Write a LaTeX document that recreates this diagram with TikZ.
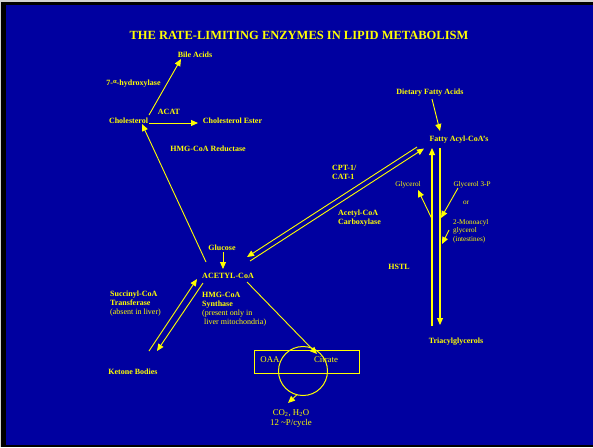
\documentclass[tikz,border=0pt]{standalone}
\usepackage{fontspec}
\setmainfont{Liberation Serif}
\usetikzlibrary{arrows.meta,calc}
\definecolor{slideblue}{RGB}{0,0,160}
\definecolor{slideyellow}{RGB}{255,255,0}
\begin{document}
\begin{tikzpicture}[x=1pt,y=-1pt,
  lbl/.style={text=slideyellow,font=\fontsize{8}{9}\selectfont\bfseries,inner sep=0pt},
  note/.style={text=slideyellow,font=\fontsize{7.2}{8.6}\selectfont,inner sep=0pt},
  cyc/.style={text=slideyellow,font=\fontsize{8.8}{10}\selectfont,inner sep=0pt},
  flow/.style={draw=slideyellow,line width=0.9pt,-{Triangle[length=7pt,width=6pt]}},
  rail/.style={draw=slideyellow,line width=1.1pt},
  outline/.style={draw=slideyellow,line width=1pt,inner sep=0pt}]

% slide frame
\fill[gray!35] (0,0) rectangle (593,447);
\fill[black] (1,2) rectangle (593,447);
\fill[slideblue] (6,5) rectangle (593,445);
\useasboundingbox (0,0) rectangle (593,447);

% title
\node[lbl,font=\fontsize{12.5}{14}\selectfont\bfseries] (title) at (299,35)
  {THE RATE-LIMITING ENZYMES IN LIPID METABOLISM};

% cholesterol branch
\node[lbl] (bile) at (195,55) {Bile Acids};
\node[lbl] (hydrox) at (133.5,84) {7-\raisebox{2.5pt}{\fontsize{6.5}{6.5}\selectfont α}-hydroxylase};
\node[lbl] (chol) at (128.5,121) {Cholesterol};
\node[lbl] (acat) at (169,112) {ACAT};
\node[lbl] (ester) at (232.5,121) {Cholesterol Ester};
\node[lbl] (hmgr) at (208,149) {HMG-CoA Reductase};

% acetyl-CoA hub
\node[lbl] (glucose) at (222,248) {Glucose};
\node[lbl] (acoa) at (228,276) {ACETYL-CoA};
\node[lbl,align=left,anchor=west] (cpt) at (332,172) {CPT-1/\\CAT-1};
\node[lbl,align=left,anchor=west] (acc) at (338,218) {Acetyl-CoA\\Carboxylase};

% fatty acid side
\node[lbl] (diet) at (430,93) {Dietary Fatty Acids};
\node[lbl] (facoa) at (459,140) {Fatty Acyl-CoA's};
\node[note] (glyc) at (408,185) {Glycerol};
\node[note] (g3p) at (472,185) {Glycerol 3-P};
\node[note] (or) at (466,203) {or};
\node[note,align=left,anchor=west] (mag) at (453,231) {2-Monoacyl\\glycerol\\(intestines)};
\node[lbl] (hstl) at (399,267) {HSTL};
\node[lbl] (tag) at (456,342) {Triacylglycerols};

% ketone bodies
\node[lbl,align=left,anchor=west] (sct) at (110,304)
  {Succinyl-CoA\\Transferase\\{\normalfont(absent in liver)}};
\node[lbl,align=left,anchor=west] (hmgs) at (202,309.5)
  {HMG-CoA\\Synthase\\{\normalfont(present only in}\\{\normalfont\ liver mitochondria)}};
\node[lbl] (ketone) at (133,372) {Ketone Bodies};

% citric acid cycle
\node[outline,minimum width=105pt,minimum height=23pt] (box) at (306.5,361.5) {};
\node[outline,circle,minimum size=49pt] (tca) at (303,371) {};
\node[cyc] (oaa) at (270,360) {OAA};
\node[cyc] (citrate) at (326,360) {Citrate};
\node[cyc,align=center] (co2) at (291,419) {CO\textsubscript{2}, H\textsubscript{2}O\\12 \textasciitilde P/cycle};

% connectors
\draw[flow] ($(chol)+(20.5,2)$) -- ($(ester)+(-34.5,2)$);
\draw[flow] ($(chol)+(20.5,-6)$) -- ($(bile)+(-14,4)$);
\draw[flow] ($(acoa)+(-22,-14)$) -- ($(chol)+(13.5,3)$);
\draw[flow] ($(glucose)+(1,4)$) -- ($(acoa)+(-5,-7)$);
\draw[flow] ($(facoa)+(-42,7)$) -- ($(acoa)+(19,-19)$);
\draw[flow] ($(acoa)+(22,-15)$) -- ($(facoa)+(-35,8.5)$);
\draw[flow] ($(diet)+(2,6)$) -- ($(facoa)+(-19,-9)$);
\draw[rail,-{Triangle[length=7pt,width=6pt]}] ($(tag)+(-24,-16)$) -- ($(facoa)+(-27,8)$);
\draw[rail,-{Triangle[length=7pt,width=6pt]}] ($(facoa)+(-19,8)$) -- ($(tag)+(-16,-17)$);
\draw[flow] ($(facoa)+(-27,79)$) -- ($(glyc)+(10,5)$);
\draw[flow] ($(g3p)+(-14,3)$) -- ($(facoa)+(-18,78)$);
\draw[flow] ($(mag.west)+(-4,-1)$) -- ($(facoa)+(-17,104)$);
\draw[flow] ($(ketone)+(16,-21)$) -- ($(acoa)+(-31,3)$);
\draw[flow] ($(acoa)+(-25,7)$) -- ($(ketone)+(24,-21)$);
\draw[flow] ($(acoa)+(19,6)$) -- ($(citrate)+(-9,-6)$);
\draw[flow] (tca.-105) -- ($(co2)+(-3,-16)$);
\end{tikzpicture}
\end{document}
